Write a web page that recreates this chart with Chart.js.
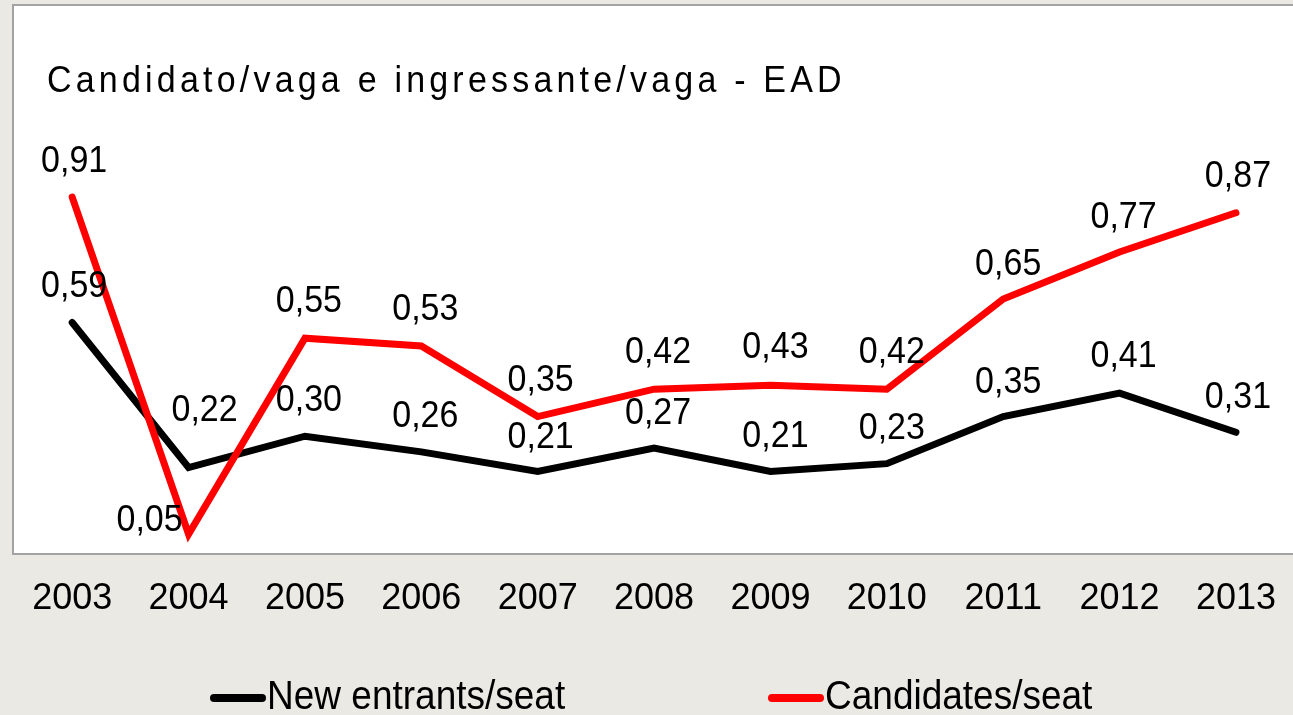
<!DOCTYPE html>
<html>
<head>
<meta charset="utf-8">
<title>Candidato/vaga e ingressante/vaga - EAD</title>
<script src="https://cdn.jsdelivr.net/npm/chart.js@4.4.1/dist/chart.umd.min.js"></script>
<style>
  html, body { margin: 0; padding: 0; background: #eae9e3; overflow: hidden; }
  #wrap { position: relative; width: 1300px; height: 715px; }
  canvas { display: block; }
</style>
</head>
<body>
<div id="wrap"><canvas id="grafica" width="1300" height="715"></canvas></div>
<script>
// dados
var anos = ['2003', '2004', '2005', '2006', '2007', '2008', '2009', '2010', '2011', '2012', '2013'];
var ingressantes = [0.59, 0.22, 0.30, 0.26, 0.21, 0.27, 0.21, 0.23, 0.35, 0.41, 0.31];
var candidatos = [0.91, 0.05, 0.55, 0.53, 0.35, 0.42, 0.43, 0.42, 0.65, 0.77, 0.87];
var titulo = 'Candidato/vaga e ingressante/vaga - EAD';
var nomeIngressantes = 'New entrants/seat';
var nomeCandidatos = 'Candidates/seat';

// deslocamento dos rotulos em relacao ao ponto (x, y)
var desvioPreto = [[2, -36], [16, -57], [4, -35], [4, -35], [3, -34], [4, -34], [5, -35], [5, -35], [5, -34], [4, -36], [2, -34]];
var desvioVermelho = [[2, -35], [-39, -13], [4, -36], [4, -36], [3, -36], [4, -36], [5, -37], [5, -36], [5, -34], [4, -34], [2, -36]];

var fonte = '"Liberation Sans", Arial, sans-serif';

function formata(v) {
  return v.toFixed(2).replace('.', ',');
}

// texto um pouco esticado na vertical, como no original
function escreve(ctx, txt, x, y, sy) {
  ctx.save();
  ctx.translate(x, y);
  ctx.scale(1, sy);
  ctx.fillText(txt, 0, 0);
  ctx.restore();
}

var fundo = {
  id: 'fundo',
  beforeDraw: function(chart) {
    var ctx = chart.ctx;
    ctx.save();
    ctx.fillStyle = '#eae9e3';
    ctx.fillRect(0, 0, chart.width, chart.height);
    ctx.fillStyle = '#ffffff';
    ctx.fillRect(13, 5, chart.width, 549);
    ctx.strokeStyle = '#a3a3a3';
    ctx.lineWidth = 2;
    ctx.strokeRect(13, 5, chart.width + 10, 549);
    // titulo
    ctx.fillStyle = '#000';
    ctx.font = '34px ' + fonte;
    ctx.letterSpacing = '4.2px';
    ctx.textBaseline = 'alphabetic';
    ctx.textAlign = 'left';
    escreve(ctx, titulo, 47, 92, 1.08);
    ctx.restore();
  }
};

var rotulos = {
  id: 'rotulos',
  afterDatasetsDraw: function(chart) {
    var ctx = chart.ctx;
    ctx.save();
    ctx.fillStyle = '#000';
    ctx.font = '34px ' + fonte;
    ctx.textAlign = 'center';
    ctx.textBaseline = 'middle';
    chart.data.datasets.forEach(function(ds, k) {
      var meta = chart.getDatasetMeta(k);
      var desvio = k === 0 ? desvioPreto : desvioVermelho;
      meta.data.forEach(function(pt, i) {
        escreve(ctx, formata(ds.data[i]), pt.x + desvio[i][0], pt.y + desvio[i][1], 1.08);
      });
    });
    ctx.restore();
  },
  afterDraw: function(chart) {
    // legenda
    var ctx = chart.ctx;
    ctx.save();
    ctx.font = '37px ' + fonte;
    ctx.textBaseline = 'middle';
    ctx.textAlign = 'left';
    var itens = [[210, 0], [768, 1]];
    itens.forEach(function(it) {
      var ds = chart.data.datasets[it[1]];
      ctx.strokeStyle = ds.borderColor;
      ctx.lineWidth = 8;
      ctx.lineCap = 'round';
      ctx.beginPath();
      ctx.moveTo(it[0] + 4, 698);
      ctx.lineTo(it[0] + 52, 698);
      ctx.stroke();
      ctx.fillStyle = '#000';
      escreve(ctx, ds.label, it[0] + 57, 698, 1.12);
    });
    ctx.restore();
  }
};

var ctx = document.getElementById('grafica').getContext('2d');
new Chart(ctx, {
  type: 'line',
  data: {
    labels: anos,
    datasets: [{
      label: nomeIngressantes,
      data: ingressantes,
      borderColor: '#000000',
      borderWidth: 7,
      order: 1
    }, {
      label: nomeCandidatos,
      data: candidatos,
      borderColor: '#ff0000',
      borderWidth: 7,
      order: 0
    }]
  },
  options: {
    responsive: false,
    animation: false,
    devicePixelRatio: 1,
    layout: { padding: { left: 14, right: 0, top: 5, bottom: 70 } },
    elements: {
      point: { radius: 0, hoverRadius: 0 },
      line: { tension: 0, fill: false, borderCapStyle: 'round', borderJoinStyle: 'miter' }
    },
    plugins: {
      legend: { display: false },
      title: { display: false },
      tooltip: { enabled: false }
    },
    scales: {
      x: {
        offset: true,
        grid: { display: false, drawTicks: false },
        border: { display: false },
        ticks: { color: '#000', padding: 24, font: { family: fonte, size: 36 } }
      },
      y: {
        display: false,
        min: 0,
        max: 1.4
      }
    }
  },
  plugins: [fundo, rotulos]
});
</script>
</body>
</html>
